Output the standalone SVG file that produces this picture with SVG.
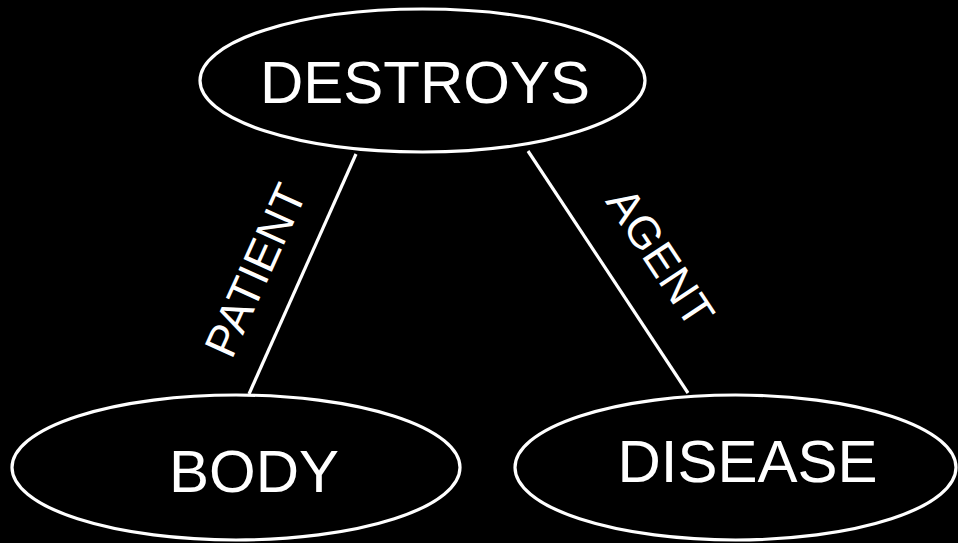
<svg xmlns="http://www.w3.org/2000/svg" width="958" height="543" viewBox="0 0 958 543">
  <style>
    .node ellipse { fill: #000; stroke: #fff; stroke-width: 3.2; }
    .node text { fill: #fff; font-family: "Liberation Sans", Arial, sans-serif; font-size: 60px; text-anchor: middle; }
    .edge line { stroke: #fff; stroke-width: 3.2; }
    .edge text { fill: #fff; font-family: "Liberation Sans", Arial, sans-serif; font-size: 45px; text-anchor: middle; }
  </style>
  <rect width="958" height="543" fill="#000"/>

  <g id="connectors" class="edge">
    <line x1="356" y1="154" x2="249" y2="394"/>
    <line x1="528" y1="151" x2="688" y2="393"/>
    <text transform="translate(255 270) rotate(-65.7)" y="16">PATIENT</text>
    <text transform="translate(661 257) rotate(56.5)" y="16">AGENT</text>
  </g>

  <g id="destroys" class="node">
    <ellipse cx="422.5" cy="80.5" rx="222.5" ry="71.5"/>
    <text x="425" y="103">DESTROYS</text>
  </g>

  <g id="body" class="node">
    <ellipse cx="236" cy="467.5" rx="224" ry="72.5"/>
    <text x="254" y="492">BODY</text>
  </g>

  <g id="disease" class="node">
    <ellipse cx="735.5" cy="467.5" rx="220.5" ry="72.5"/>
    <text x="747.5" y="482">DISEASE</text>
  </g>
</svg>
